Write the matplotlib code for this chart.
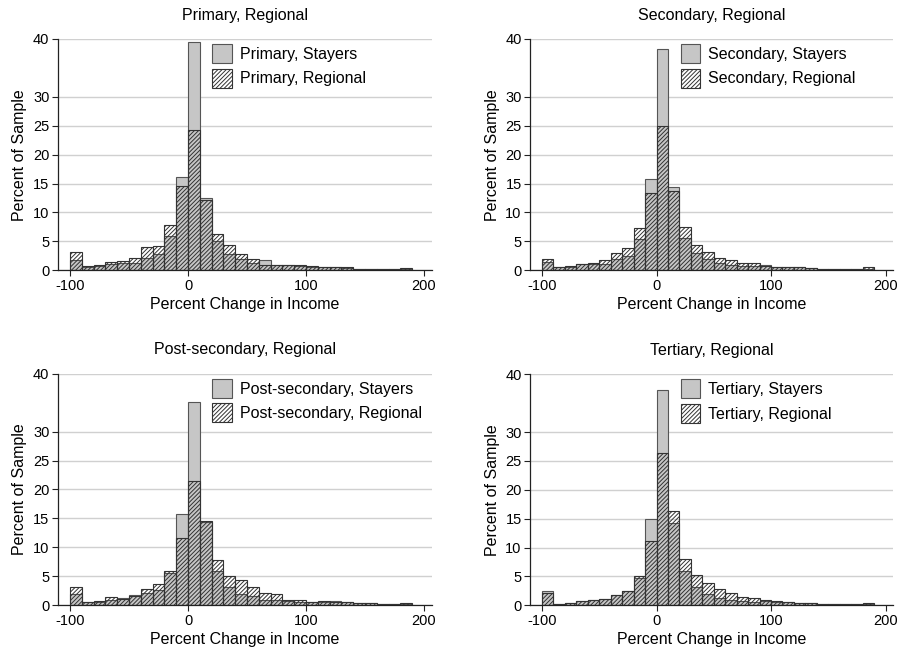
import numpy as np
import matplotlib
matplotlib.use("Agg")
import matplotlib.pyplot as plt
from matplotlib.patches import Patch

plt.rcParams['font.family'] = ['Liberation Sans', 'DejaVu Sans']
plt.rcParams['hatch.linewidth'] = 0.7
plt.rcParams['axes.unicode_minus'] = False

# bin left edges, width 10, from -100 to 180
bin_left = np.arange(-100, 190, 10)

groups = ["Primary", "Secondary", "Post-secondary", "Tertiary"]

primary_stayers = [1.7, 0.6, 0.8, 1.1, 1.3, 1.3, 2.1, 2.9, 5.9, 16.1, 39.4, 12.5, 5.0, 2.8, 2.0,
                   1.3, 1.7, 0.9, 0.9, 0.7, 0.5, 0.5, 0.5, 0.4, 0.3, 0.3, 0.2, 0.2, 0.2]
primary_regional = [3.2, 0.7, 0.9, 1.4, 1.6, 2.2, 4.0, 4.2, 7.8, 14.6, 24.3, 12.1, 6.2, 4.3, 2.8,
                    2.0, 1.0, 1.0, 0.9, 0.9, 0.7, 0.5, 0.5, 0.5, 0.3, 0.3, 0.2, 0.2, 0.4]

secondary_stayers = [1.4, 0.6, 0.6, 1.1, 1.1, 1.1, 2.0, 2.5, 5.4, 15.8, 38.2, 14.4, 5.6, 3.0, 1.9,
                     1.2, 0.9, 0.75, 0.8, 1.0, 0.6, 0.5, 0.5, 0.45, 0.3, 0.3, 0.25, 0.15, 0.2]
secondary_regional = [2.0, 0.6, 0.7, 1.1, 1.3, 1.8, 3.0, 3.9, 7.3, 13.4, 25.0, 13.7, 7.5, 4.3, 3.2,
                      2.2, 1.8, 1.3, 1.3, 0.8, 0.6, 0.5, 0.5, 0.45, 0.3, 0.3, 0.25, 0.15, 0.5]

post_stayers = [2.0, 0.5, 0.6, 0.9, 1.3, 1.7, 2.1, 2.6, 5.6, 15.7, 35.1, 14.4, 5.9, 3.2, 2.0,
                1.6, 1.0, 0.9, 0.7, 0.6, 0.6, 0.5, 0.75, 0.5, 0.4, 0.35, 0.3, 0.2, 0.2]
post_regional = [3.2, 0.5, 0.7, 1.4, 1.1, 1.6, 2.8, 3.6, 5.9, 11.6, 21.5, 14.6, 7.9, 5.1, 4.4,
                 3.1, 2.1, 2.0, 1.0, 0.9, 0.6, 0.7, 0.5, 0.5, 0.4, 0.35, 0.3, 0.2, 0.4]

tertiary_stayers = [2.4, 0.3, 0.45, 0.75, 0.9, 1.15, 1.8, 2.4, 4.7, 15.0, 37.2, 14.2, 6.0, 3.1, 1.9,
                    1.3, 1.0, 0.7, 0.6, 0.7, 0.6, 0.5, 0.4, 0.35, 0.2, 0.15, 0.2, 0.15, 0.2]
tertiary_regional = [2.2, 0.3, 0.45, 0.75, 0.9, 1.15, 1.8, 2.4, 5.0, 11.1, 26.3, 16.3, 8.0, 5.2, 3.9,
                     2.9, 2.2, 1.4, 1.3, 0.9, 0.7, 0.6, 0.4, 0.35, 0.2, 0.15, 0.2, 0.15, 0.45]

stayers = [primary_stayers, secondary_stayers, post_stayers, tertiary_stayers]
regional = [primary_regional, secondary_regional, post_regional, tertiary_regional]

y_ticks = [0, 5, 10, 15, 20, 25, 30, 40]
x_ticks = [-100, 0, 100, 200]

# axes boxes in pixels (left, right, y0 line, y40 line)
boxes = [(57.7, 431.7, 270.3, 39.0), (530.0, 893.0, 270.3, 39.0),
         (57.7, 431.7, 605.3, 373.7), (530.0, 893.0, 605.3, 374.3)]

W, H = 905, 650
fig = plt.figure(figsize=(W / 100, H / 100), dpi=100)

stay_face = '#c6c6c6'
edge = '#333333'
hatch = '////////'

for i, g in enumerate(groups):
    l, r, b, t = boxes[i]
    ax = fig.add_axes([l / W, 1 - b / H, (r - l) / W, (b - t) / H])
    ax.bar(bin_left, stayers[i], width=10, align='edge', color=stay_face,
           edgecolor='#555555', linewidth=0.8, zorder=2)
    ax.bar(bin_left, regional[i], width=10, align='edge', facecolor='none',
           edgecolor=edge, hatch=hatch, linewidth=0.8, zorder=3)
    ax.set_xlim(-110.5, 206.5)
    ax.set_ylim(0, 40)
    ax.set_yticks(y_ticks)
    ax.set_xticks(x_ticks)
    ax.yaxis.grid(True, color='#d0d0d0', linewidth=1.0, zorder=0)
    ax.set_axisbelow(True)
    for s in ['top', 'right']:
        ax.spines[s].set_visible(False)
    for s in ['left', 'bottom']:
        ax.spines[s].set_color('#222222')
        ax.spines[s].set_linewidth(0.9)
    ax.tick_params(axis='both', labelsize=10.5, length=4, width=0.8, color='#222222', pad=2)
    ax.set_title(g + ", Regional", fontsize=11.5, pad=14)
    ax.set_xlabel("Percent Change in Income", fontsize=11.5, labelpad=3)
    ax.set_ylabel("Percent of Sample", fontsize=11.5, labelpad=4)
    handles = [Patch(facecolor=stay_face, edgecolor='#555555', linewidth=0.8),
               Patch(facecolor='none', edgecolor=edge, hatch=hatch, linewidth=0.8)]
    ax.legend(handles, [g + ", Stayers", g + ", Regional"], loc='upper left',
              bbox_to_anchor=(0.375, 1.04), frameon=False, fontsize=11.5,
              handlelength=1.25, handleheight=1.45, handletextpad=0.5, labelspacing=0.35)

fig.savefig("out.png", dpi=100)
